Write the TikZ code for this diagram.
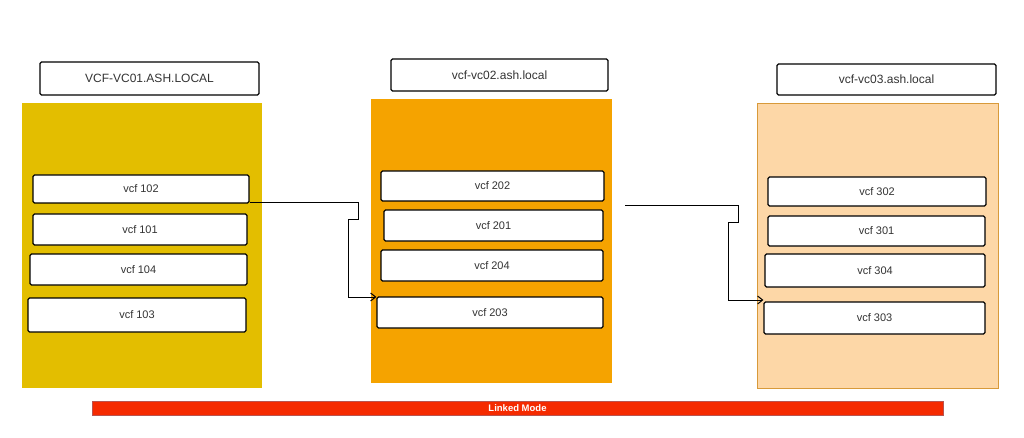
\documentclass[tikz,border=0pt]{standalone}
\usepackage{fontspec}
\setmainfont{Liberation Sans}
\usetikzlibrary{arrows.meta}
\definecolor{cyellow}{HTML}{E3BE00}
\definecolor{corange}{HTML}{F5A300}
\definecolor{cpeach}{HTML}{FDD7A7}
\definecolor{cpeachline}{HTML}{D89A3A}
\definecolor{cred}{HTML}{F52A00}
\definecolor{credline}{HTML}{B85450}
\begin{document}
\begin{tikzpicture}[x=1pt,y=-1pt,
  titlebox/.style={draw=black,line width=1.2pt,fill=white,rounded corners=1.5pt,font=\fontsize{12}{14}\selectfont,text=black!80},
  vmbox/.style={draw=black,line width=1.2pt,fill=white,rounded corners=1.5pt,font=\fontsize{11}{13}\selectfont,text=black!80},
  link/.style={draw=black,line width=1pt,-{Straight Barb[length=5pt,width=8pt]}}]
\useasboundingbox (0,0) rectangle (1024,438);
\fill[white] (0,0) rectangle (1024,438);
% containers
\path[fill=cyellow] (22,103) rectangle (262,388);
\path[fill=corange] (371,99) rectangle (612,383);
\path[fill=cpeach,draw=cpeachline,line width=0.8pt] (757,103) rectangle (998,388);
% title boxes
\node[titlebox,minimum width=219pt,minimum height=33pt] (t1) at (149.5,78.5) {VCF-VC01.ASH.LOCAL};
\node[titlebox,minimum width=217pt,minimum height=32pt] (t2) at (499.5,75) {vcf-vc02.ash.local};
\node[titlebox,minimum width=219pt,minimum height=31pt] (t3) at (886.5,79.5) {vcf-vc03.ash.local};
% column 1
\node[vmbox,minimum width=216pt,minimum height=28pt] (v102) at (141,189) {vcf 102};
\node[vmbox,minimum width=214pt,minimum height=31pt] (v101) at (140,229.5) {vcf 101};
\node[vmbox,minimum width=217pt,minimum height=31pt] (v104) at (138.5,269.5) {vcf 104};
\node[vmbox,minimum width=218pt,minimum height=34pt] (v103) at (137,315) {vcf 103};
% column 2
\node[vmbox,minimum width=223pt,minimum height=30pt] (v202) at (492.5,186) {vcf 202};
\node[vmbox,minimum width=219pt,minimum height=31pt] (v201) at (493.5,225.5) {vcf 201};
\node[vmbox,minimum width=222pt,minimum height=31pt] (v204) at (492,265.5) {vcf 204};
\node[vmbox,minimum width=226pt,minimum height=31pt] (v203) at (490,312.5) {vcf 203};
% column 3
\node[vmbox,minimum width=218pt,minimum height=29pt] (v302) at (877,191.5) {vcf 302};
\node[vmbox,minimum width=217pt,minimum height=30pt] (v301) at (876.5,231) {vcf 301};
\node[vmbox,minimum width=220pt,minimum height=33pt] (v304) at (875,270.5) {vcf 304};
\node[vmbox,minimum width=221pt,minimum height=32pt] (v303) at (874.5,318) {vcf 303};
% linked mode bar
\node[draw=credline,fill=cred,line width=0.6pt,minimum width=851pt,minimum height=14pt,inner sep=0pt,text=white,font=\bfseries\fontsize{9.5}{10}\selectfont] (lm) at (517.5,408) {Linked Mode};
% connectors
\coordinate (s2) at (625,206);
\draw[link] (v102.east |- 0,203) -- (358,203) -- (358,220) -- (348,220) -- (348,297) -- (v203.west |- 0,297);
\draw[link] (s2) -- (738,206) -- (738,223) -- (728,223) -- (728,300) -- (v303.west |- 0,300);
\end{tikzpicture}
\end{document}
